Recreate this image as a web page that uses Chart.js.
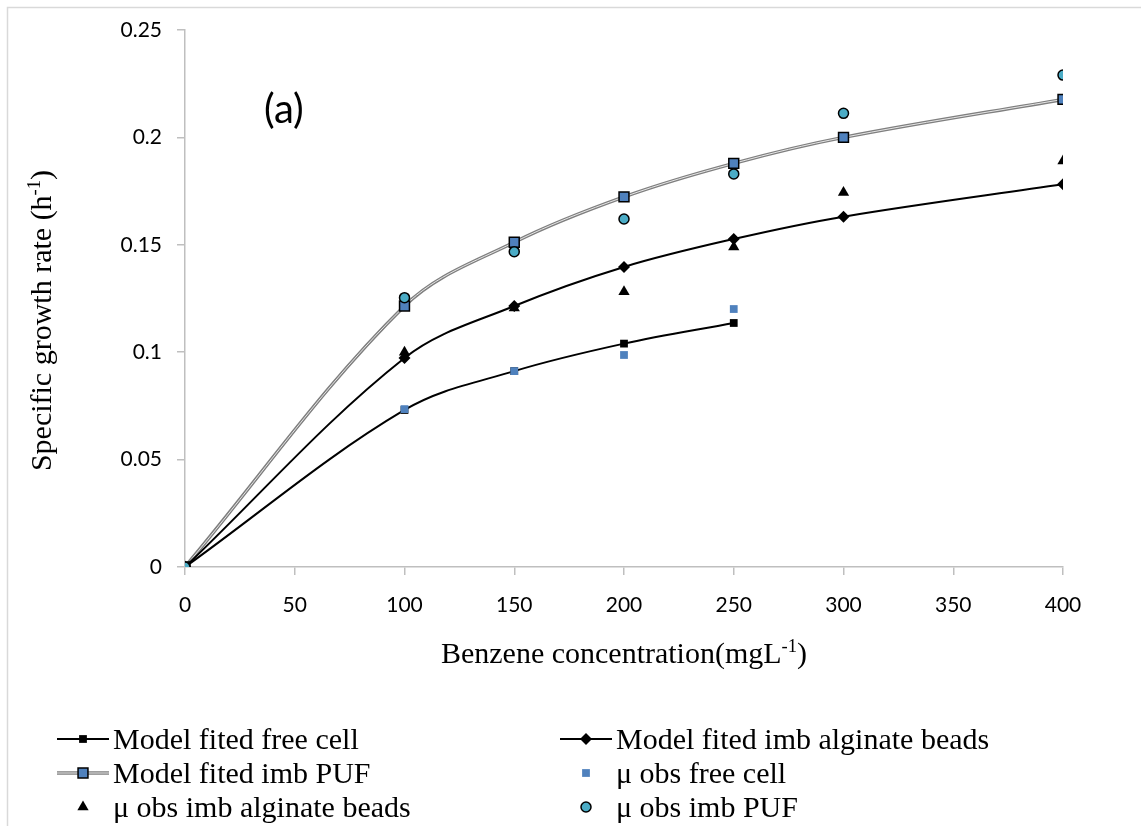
<!DOCTYPE html>
<html>
<head>
<meta charset="utf-8">
<script src="https://cdn.jsdelivr.net/npm/chart.js@4/dist/chart.umd.min.js"></script>
<style>
  body { margin: 0; background: #fff; }
  canvas { display: block; }
</style>
</head>
<body>
<canvas id="growth-chart" width="1141" height="826"></canvas>
<script>
// benzene concentration (mg/L)
const conc = [0, 100, 150, 200, 250, 300, 400]
const concFree = [0, 100, 150, 200, 250]

// specific growth rate (1/h)
const modelFree = [0, 0.0731, 0.0912, 0.1040, 0.1136]
const modelAlginate = [0, 0.0973, 0.1215, 0.1397, 0.1527, 0.1631, 0.1782]
const modelPUF = [0, 0.1215, 0.1512, 0.1723, 0.1879, 0.2000, 0.2177]
const obsFree = [0, 0.0735, 0.0912, 0.0987, 0.1201]
const obsAlginate = [0, 0.1000, 0.1206, 0.1282, 0.1490, 0.1743, 0.1890]
const obsPUF = [0, 0.1254, 0.1468, 0.1620, 0.1830, 0.2112, 0.2290]

const xTicks = [0, 50, 100, 150, 200, 250, 300, 350, 400]
const yTicks = [0, 0.05, 0.1, 0.15, 0.2, 0.25]

const serif = '"Liberation Serif", "Times New Roman", serif'
const sans = 'Lato, "Open Sans", sans-serif'

function pts(xs, ys){
    return ys.map(function(y, i){ return {x: xs[i], y: y} })
}

const datasets = [
    {
        label: 'Model fited free cell',
        data: pts(concFree, modelFree),
        borderColor: '#000', borderWidth: 2,
        pointStyle: 'rect', pointRadius: 5.5,
        pointBackgroundColor: '#000', pointBorderColor: '#000', pointBorderWidth: 0,
        tension: .35, order: 3
    },
    {
        label: 'Model fited imb alginate beads',
        data: pts(conc, modelAlginate),
        borderColor: '#000', borderWidth: 2,
        pointStyle: 'rectRot', pointRadius: 6,
        pointBackgroundColor: '#000', pointBorderColor: '#000', pointBorderWidth: 0,
        tension: .35, order: 4
    },
    {
        // outer grey part of the double line
        label: 'Model fited imb PUF',
        data: pts(conc, modelPUF),
        borderColor: '#7f7f7f', borderWidth: 3.5,
        pointRadius: 0,
        tension: .35, order: 8
    },
    {
        // light centre of the double line
        label: 'puf-inner',
        data: pts(conc, modelPUF),
        borderColor: '#e6e6e6', borderWidth: 1,
        pointRadius: 0,
        tension: .35, order: 7
    },
    {
        label: 'puf-markers',
        data: pts(conc, modelPUF),
        showLine: false,
        pointStyle: 'rect', pointRadius: 7,
        pointBackgroundColor: '#4f81bd', pointBorderColor: '#000', pointBorderWidth: 1.5,
        order: 6
    },
    {
        label: 'μ obs free cell',
        data: pts(concFree, obsFree),
        showLine: false,
        pointStyle: 'rect', pointRadius: 5.5,
        pointBackgroundColor: '#4f81bd', pointBorderColor: '#4f81bd', pointBorderWidth: 0,
        order: 1
    },
    {
        label: 'μ obs imb alginate beads',
        data: pts(conc, obsAlginate),
        showLine: false,
        pointStyle: 'triangle', pointRadius: 6.5,
        pointBackgroundColor: '#000', pointBorderColor: '#000', pointBorderWidth: 0,
        order: 2
    },
    {
        label: 'μ obs imb PUF',
        data: pts(conc, obsPUF),
        showLine: false,
        pointStyle: 'circle', pointRadius: 5,
        pointBackgroundColor: '#4bacc6', pointBorderColor: '#000', pointBorderWidth: 1.5,
        order: 0
    }
]

// legend layout: [dataset index, column, row]
const legendItems = [
    [0, 0, 0], [1, 1, 0],
    [2, 0, 1], [5, 1, 1],
    [6, 0, 2], [7, 1, 2]
]

function drawRich(c, parts, x, y, size){
    // parts: [text, superscript?]; x is the centre, y the baseline
    let w = 0
    parts.forEach(function(p){
        c.font = (p[1] ? size * .62 : size) + 'px ' + serif
        w += c.measureText(p[0]).width
    })
    let cx = x - w / 2
    parts.forEach(function(p){
        c.font = (p[1] ? size * .62 : size) + 'px ' + serif
        c.fillText(p[0], cx, p[1] ? y - size * .36 : y)
        cx += c.measureText(p[0]).width
    })
}

function drawMarker(c, ds, x, y){
    if (!ds.pointRadius) return
    c.fillStyle = ds.pointBackgroundColor
    c.strokeStyle = ds.pointBorderColor
    c.lineWidth = ds.pointBorderWidth
    Chart.helpers.drawPoint(c, {
        pointStyle: ds.pointStyle, radius: ds.pointRadius,
        rotation: 0, borderWidth: ds.pointBorderWidth
    }, x, y)
}

const extras = {
    id: 'extras',
    beforeDraw(chart){
        const c = chart.ctx
        c.save()
        c.fillStyle = '#fff'
        c.fillRect(0, 0, chart.width, chart.height)
        c.strokeStyle = '#d9d9d9'
        c.lineWidth = 1.5
        c.strokeRect(7.5, 7.5, chart.width + 40, chart.height + 40)
        c.restore()
    },
    afterDraw(chart){
        const c = chart.ctx
        const area = chart.chartArea
        const xs = chart.scales.x
        const ys = chart.scales.y
        c.save()
        c.fillStyle = '#000'
        c.textBaseline = 'alphabetic'

        // panel label
        c.font = '40px ' + sans
        c.textAlign = 'left'
        c.fillText('(a)', xs.getPixelForValue(36), ys.getPixelForValue(0.2065))

        // axis titles
        drawRich(c, [['Benzene concentration(mgL', false], ['-1', true], [')', false]],
            (area.left + area.right) / 2, area.bottom + 96, 30)
        c.save()
        c.translate(51, (area.top + area.bottom) / 2 + 22)
        c.rotate(-Math.PI / 2)
        drawRich(c, [['Specific growth rate (h', false], ['-1', true], [')', false]], 0, 0, 30)
        c.restore()

        // legend
        const colX = [57, 560]
        const rowY = [739, 773, 807]
        legendItems.forEach(function(item){
            const ds = chart.data.datasets[item[0]]
            const x0 = colX[item[1]]
            const y = rowY[item[2]]
            const mid = x0 + 26
            if (item[0] === 2) {
                c.lineCap = 'butt'
                c.strokeStyle = '#7f7f7f'; c.lineWidth = 3.5
                c.beginPath(); c.moveTo(x0, y); c.lineTo(x0 + 52, y); c.stroke()
                c.strokeStyle = '#e6e6e6'; c.lineWidth = 1
                c.beginPath(); c.moveTo(x0, y); c.lineTo(x0 + 52, y); c.stroke()
                drawMarker(c, chart.data.datasets[4], mid, y)
            } else {
                if (ds.showLine !== false) {
                    c.strokeStyle = ds.borderColor; c.lineWidth = ds.borderWidth
                    c.beginPath(); c.moveTo(x0, y); c.lineTo(x0 + 52, y); c.stroke()
                }
                drawMarker(c, ds, mid, y)
            }
            c.fillStyle = '#000'
            c.font = '30px ' + serif
            c.textAlign = 'left'
            c.fillText(ds.label, x0 + 56, y + 10)
        })
        c.restore()
    }
}

new Chart(document.getElementById('growth-chart'), {
    type: 'line',
    data: { datasets: datasets },
    options: {
        responsive: false,
        animation: false,
        layout: { padding: { left: 0, right: 78, top: 30, bottom: 209 } },
        plugins: { legend: { display: false }, tooltip: { enabled: false } },
        scales: {
            x: {
                type: 'linear',
                min: 0, max: 400,
                afterFit: function(scale){ scale.height = 50 },
                afterBuildTicks: function(scale){ scale.ticks = xTicks.map(function(v){ return {value: v} }) },
                grid: { drawOnChartArea: false, color: '#bfbfbf', lineWidth: 1.5, tickLength: 8 },
                border: { color: '#bfbfbf', width: 1.5 },
                ticks: { color: '#000', font: { family: sans, size: 21 }, padding: 18, maxRotation: 0 }
            },
            y: {
                min: 0, max: 0.25,
                afterFit: function(scale){ scale.width = 185 },
                afterBuildTicks: function(scale){ scale.ticks = yTicks.map(function(v){ return {value: v} }) },
                grid: { drawOnChartArea: false, color: '#bfbfbf', lineWidth: 1.5, tickLength: 8 },
                border: { color: '#bfbfbf', width: 1.5 },
                ticks: {
                    color: '#000', font: { family: sans, size: 21 }, padding: 15,
                    callback: function(v){ return String(+v.toFixed(2)) }
                }
            }
        }
    },
    plugins: [extras]
});
</script>
</body>
</html>
